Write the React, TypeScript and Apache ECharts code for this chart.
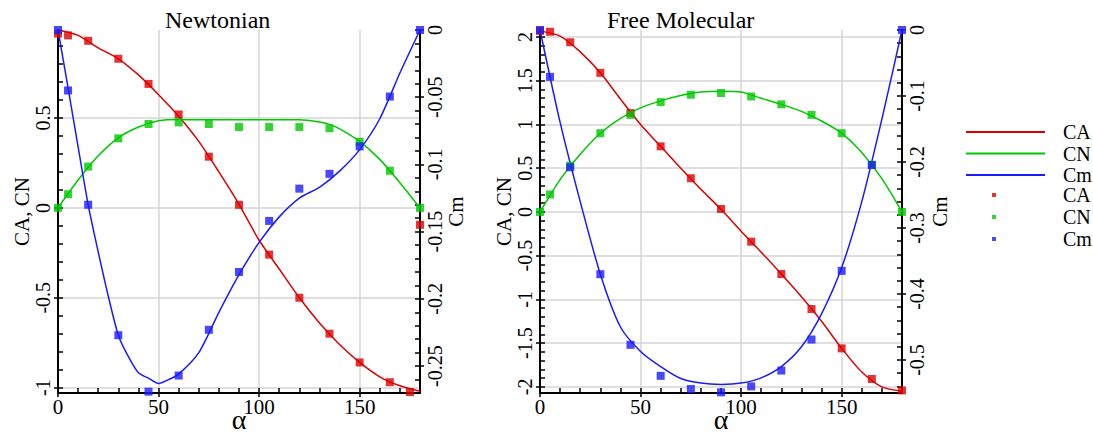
import React, { useEffect, useRef } from "react";
import * as echarts from "echarts";

// ---------- data ----------
const ptAlpha = [0, 5, 15, 30, 45, 60, 75, 90, 105, 120, 135, 150, 165, 180];
const lineAlpha = [0, 10, 20, 30, 40, 50, 60, 70, 80, 90, 100, 110, 120, 130, 140, 150, 160, 170, 180];

// Newtonian
const newtCAPtAlpha = [0, 5, 15, 30, 45, 60, 75, 90, 105, 120, 135, 150, 165, 175, 180];
const newtCAPts = [0.97, 0.96, 0.93, 0.83, 0.69, 0.52, 0.285, 0.017, -0.26, -0.5, -0.7, -0.86, -0.97, -1.025, -0.094];
const newtCNPts = [0, 0.076, 0.23, 0.387, 0.467, 0.476, 0.467, 0.45, 0.45, 0.45, 0.443, 0.368, 0.207, 0];
const newtCmPts = [0, -0.045, -0.13, -0.227, -0.269, -0.257, -0.223, -0.18, -0.142, -0.118, -0.107, -0.0866, -0.0495, 0];

const newtCALine = [0.99, 0.96, 0.89, 0.83, 0.74, 0.63, 0.51, 0.37, 0.2, 0.02, -0.18, -0.34, -0.5, -0.64, -0.76, -0.86, -0.94, -0.99, -1.02];
const newtCNAlpha = [0, 10, 20, 30, 40, 50, 60, 70, 80, 90, 100, 110, 120, 130, 135, 140, 150, 160, 170, 180];
const newtCNLine = [0, 0.155, 0.29, 0.39, 0.45, 0.485, 0.492, 0.49, 0.49, 0.49, 0.49, 0.49, 0.49, 0.478, 0.465, 0.44, 0.37, 0.27, 0.14, 0];
const newtCmAlpha = [0, 5, 10, 15, 20, 25, 30, 35, 40, 45, 50, 55, 60, 70, 80, 90, 100, 110, 120, 130, 140, 150, 160, 170, 180];
const newtCmLine = [0, -0.043, -0.087, -0.13, -0.165, -0.198, -0.227, -0.243, -0.255, -0.259, -0.263, -0.26, -0.256, -0.24, -0.21, -0.182, -0.158, -0.139, -0.125, -0.117, -0.105, -0.089, -0.066, -0.032, 0];

// Free Molecular
const fmCAPts = [2.07, 2.06, 1.94, 1.59, 1.13, 0.75, 0.385, 0.034, -0.34, -0.71, -1.11, -1.56, -1.91, -2.04];
const fmCNPts = [0, 0.2, 0.53, 0.9, 1.11, 1.255, 1.34, 1.36, 1.32, 1.23, 1.11, 0.9, 0.54, 0];
const fmCmPts = [0, -0.071, -0.208, -0.37, -0.477, -0.524, -0.544, -0.549, -0.54, -0.516, -0.469, -0.365, -0.2045, 0];

const fmCALine = [2.07, 2.01, 1.83, 1.59, 1.29, 1.0, 0.75, 0.5, 0.26, 0.03, -0.22, -0.46, -0.71, -0.97, -1.25, -1.56, -1.83, -2.0, -2.05];
const fmCNLine = [0, 0.37, 0.66, 0.9, 1.07, 1.19, 1.27, 1.33, 1.37, 1.38, 1.37, 1.3, 1.23, 1.15, 1.04, 0.9, 0.68, 0.38, 0];
const fmCmLine = [0, -0.14, -0.26, -0.37, -0.45, -0.487, -0.51, -0.528, -0.535, -0.537, -0.535, -0.527, -0.51, -0.48, -0.43, -0.36, -0.26, -0.135, 0];

// tick labels
const alphaTicks = [0, 50, 100, 150];
const newtLeftTicks = [-1, -0.5, 0, 0.5];
const newtRightTicks = [0, -0.05, -0.1, -0.15, -0.2, -0.25];
const fmLeftTicks = [-2, -1.5, -1, -0.5, 0, 0.5, 1, 1.5, 2];
const fmRightTicks = [0, -0.1, -0.2, -0.3, -0.4, -0.5];

// ---------- helpers ----------
const FONT = "'Liberation Serif', 'DejaVu Serif', serif";
const RED = "#dd0000";
const GREEN = "#00c800";
const BLUE = "#1a1aff";

const zip = (xs: number[], ys: number[]) => xs.map((x, i) => [x, ys[i]]);
const steps = (from: number, to: number, step: number) => {
  const out: number[] = [];
  const n = Math.round((to - from) / step);
  for (let i = 0; i <= n; i++) out.push(Math.round((from + i * step) * 1000) / 1000);
  return out;
};

const mainX = (gridIndex: number) => ({
  type: "value",
  gridIndex,
  position: "bottom",
  min: 0,
  max: 180,
  name: "α",
  nameLocation: "middle",
  nameGap: 12,
  nameMoveOverlap: false,
  nameTextStyle: { fontFamily: FONT, fontSize: 28, color: "#000" },
  axisLine: { show: true, onZero: false, lineStyle: { color: "#000", width: 2 } },
  axisTick: { show: true, inside: false, length: 4, customValues: alphaTicks, lineStyle: { color: "#000", width: 1.5 } },
  axisLabel: { show: true, customValues: alphaTicks, margin: 3, fontFamily: FONT, fontSize: 21, color: "#000" },
  splitLine: { show: true, lineStyle: { color: "#d4d4d4", width: 1.5 } },
});
const minorX = (gridIndex: number) => ({
  type: "value",
  gridIndex,
  position: "bottom",
  min: 0,
  max: 180,
  axisLine: { show: false, onZero: false },
  axisTick: { show: true, inside: true, length: 5, customValues: steps(0, 180, 10), lineStyle: { color: "#000", width: 1.5 } },
  axisLabel: { show: false },
  splitLine: { show: false },
});
const mainY = (
  gridIndex: number,
  position: string,
  min: number,
  max: number,
  labels: number[],
  name: string,
  nameGap: number,
  split: boolean
) => ({
  type: "value",
  gridIndex,
  position,
  min,
  max,
  name,
  nameLocation: "middle",
  nameGap,
  nameRotate: 90,
  nameTextStyle: { fontFamily: FONT, fontSize: 21, color: "#000" },
  axisLine: { show: true, onZero: false, lineStyle: { color: "#000", width: 2 } },
  axisTick: { show: true, inside: false, length: 4, customValues: labels, lineStyle: { color: "#000", width: 1.5 } },
  axisLabel: { show: true, customValues: labels, rotate: 90, margin: 5, fontFamily: FONT, fontSize: 20, color: "#000" },
  splitLine: { show: split, lineStyle: { color: "#d4d4d4", width: 1.5 } },
});
const minorY = (gridIndex: number, position: string, min: number, max: number, ticks: number[]) => ({
  type: "value",
  gridIndex,
  position,
  min,
  max,
  axisLine: { show: false, onZero: false },
  axisTick: { show: true, inside: true, length: 5, customValues: ticks, lineStyle: { color: "#000", width: 1.5 } },
  axisLabel: { show: false },
  splitLine: { show: false },
});

const lineSeries = (name: string, data: number[][], color: string, xi: number, yi: number) => ({
  type: "line",
  name,
  data,
  xAxisIndex: xi,
  yAxisIndex: yi,
  showSymbol: false,
  smooth: 0.25,
  color,
  lineStyle: { color, width: 1.5 },
  itemStyle: { color },
  z: 2,
});
const ptSeries = (name: string, data: number[][], color: string, xi: number, yi: number) => ({
  type: "scatter",
  name,
  data,
  xAxisIndex: xi,
  yAxisIndex: yi,
  symbol: "rect",
  symbolSize: 8,
  color,
  itemStyle: { color },
  z: 3,
});

export default function App() {
  const ref = useRef<HTMLDivElement>(null);
  useEffect(() => {
    if (!ref.current) return;
    const chart = echarts.init(ref.current, undefined, { renderer: "svg" });
    const NL = [-1.03, 0.99];
    const NR = [-0.27, 0];
    const FL = [-2.07, 2.08];
    const FR = [-0.55, 0];
    chart.setOption({
      animation: false,
      backgroundColor: "#fff",
      title: [
        { text: "Newtonian", left: 160, top: 3, textStyle: { fontFamily: FONT, fontSize: 24, fontWeight: "normal", color: "#000" } },
        { text: "Free Molecular", left: 602, top: 3, textStyle: { fontFamily: FONT, fontSize: 24, fontWeight: "normal", color: "#000" } },
      ],
      grid: [
        { left: 58, top: 30, width: 362, height: 363, outerBoundsMode: "none" },
        { left: 540, top: 30, width: 362, height: 363, outerBoundsMode: "none" },
      ],
      legend: [
        {
          data: ["CA", "CN", "Cm"],
          orient: "vertical",
          left: 961,
          top: 117,
          itemWidth: 92,
          itemHeight: 2,
          itemGap: 1.5,
          icon: "path://M0 0h79v2h-79zM92 2",
          selectedMode: false,
          textStyle: { fontFamily: FONT, fontSize: 20, color: "#000", lineHeight: 20 },
        },
        {
          data: ["CA pts", "CN pts", "Cm pts"],
          orient: "vertical",
          left: 961,
          top: 180,
          itemWidth: 92,
          itemHeight: 4,
          itemGap: 2,
          icon: "path://M0 0M92 4M26 0h4v4h-4z",
          selectedMode: false,
          formatter: (n: string) => n.replace(" pts", ""),
          textStyle: { fontFamily: FONT, fontSize: 20, color: "#000", lineHeight: 20 },
        },
      ],
      xAxis: [mainX(0), minorX(0), mainX(1), minorX(1)],
      yAxis: [
        mainY(0, "left", NL[0], NL[1], newtLeftTicks, "CA, CN", 26, true),
        minorY(0, "left", NL[0], NL[1], steps(-1, 0.9, 0.1)),
        mainY(0, "right", NR[0], NR[1], newtRightTicks, "Cm", 25, false),
        minorY(0, "right", NR[0], NR[1], steps(-0.27, 0, 0.01)),
        mainY(1, "left", FL[0], FL[1], fmLeftTicks, "CA, CN", 24, true),
        minorY(1, "left", FL[0], FL[1], steps(-2, 2, 0.1)),
        mainY(1, "right", FR[0], FR[1], fmRightTicks, "Cm", 27, false),
        minorY(1, "right", FR[0], FR[1], steps(-0.54, 0, 0.02)),
      ],
      series: [
        lineSeries("CA", zip(lineAlpha, newtCALine), RED, 0, 0),
        lineSeries("CN", zip(newtCNAlpha, newtCNLine), GREEN, 0, 0),
        lineSeries("Cm", zip(newtCmAlpha, newtCmLine), BLUE, 0, 2),
        ptSeries("CA pts", zip(newtCAPtAlpha, newtCAPts), RED, 0, 0),
        ptSeries("CN pts", zip(ptAlpha, newtCNPts), GREEN, 0, 0),
        ptSeries("Cm pts", zip(ptAlpha, newtCmPts), BLUE, 0, 2),
        lineSeries("CA", zip(lineAlpha, fmCALine), RED, 2, 4),
        lineSeries("CN", zip(lineAlpha, fmCNLine), GREEN, 2, 4),
        lineSeries("Cm", zip(lineAlpha, fmCmLine), BLUE, 2, 6),
        ptSeries("CA pts", zip(ptAlpha, fmCAPts), RED, 2, 4),
        ptSeries("CN pts", zip(ptAlpha, fmCNPts), GREEN, 2, 4),
        ptSeries("Cm pts", zip(ptAlpha, fmCmPts), BLUE, 2, 6),
      ],
    });
    return () => chart.dispose();
  }, []);
  return (
    <div
      ref={ref}
      style={{ position: "fixed", left: 0, top: 0, width: 1093, height: 438, background: "#fff" }}
    />
  );
}
